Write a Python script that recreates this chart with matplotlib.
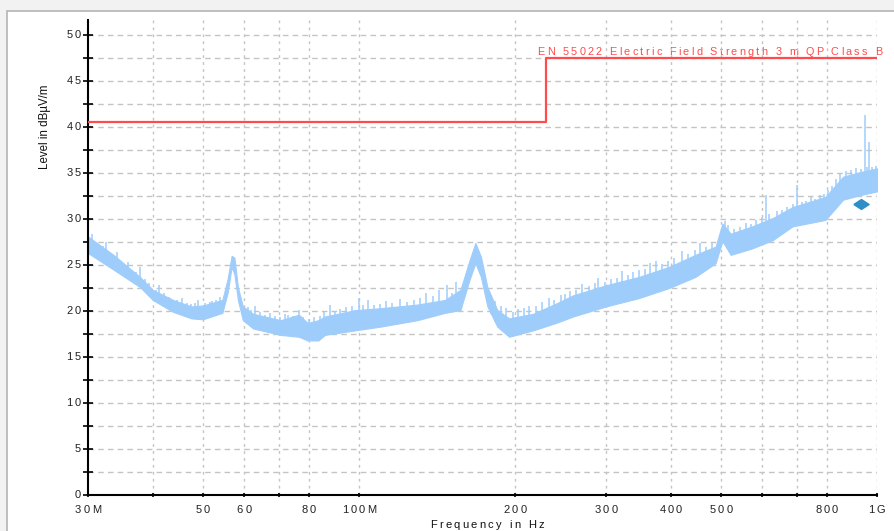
import numpy as np
import matplotlib
matplotlib.use("Agg")
import matplotlib.pyplot as plt
from matplotlib.patches import Rectangle
from matplotlib.ticker import FixedLocator, NullFormatter
from matplotlib.transforms import offset_copy

# ---------------- data ----------------
env_freq_mhz = [30, 33.6, 37.8, 40, 43.8, 47.5, 50, 54.5, 55.8, 56.8, 57.5, 58.4, 59.7,
                62.5, 70.6, 76.6, 79.6, 83.5, 86, 98.4, 110, 129.6, 146.6, 157, 163.5,
                167.8, 172, 177, 185, 195, 217, 240, 259, 300, 347, 397, 446, 488, 503,
                522, 574, 629, 687, 795, 860, 929, 1000]
env_upper_db = [28.1, 26.1, 23.7, 22.3, 21.2, 20.5, 20.6, 21.2, 23.5, 26.0, 25.8, 22.6, 20.5,
                19.7, 19.0, 19.6, 18.7, 19.0, 19.4, 20.1, 20.3, 20.7, 21.2, 22.3, 25.5,
                27.4, 25.9, 22.6, 20.1, 19.2, 19.7, 20.8, 21.7, 22.8, 23.7, 24.8, 26.1, 27.0, 29.5,
                28.4, 29.2, 30.1, 31.3, 32.4, 34.6, 35.1, 35.5]
env_lower_db = [26.3, 24.5, 22.6, 21.2, 19.9, 19.2, 19.1, 19.8, 22.0, 24.8, 24.0, 21.2, 19.0,
                18.1, 17.4, 17.2, 16.8, 16.8, 17.4, 17.9, 18.3, 19.0, 19.8, 20.1, 23.4,
                25.2, 23.7, 20.5, 18.3, 17.2, 17.9, 18.7, 19.4, 20.5, 21.4, 22.5, 23.7, 25.2, 27.6,
                26.1, 26.8, 27.7, 29.2, 29.9, 32.1, 32.6, 33.0]

# narrow peaks / noise hairs above the band (frequency in MHz, level in dB)
spike_freq_mhz = [30.5, 31.2, 32.0, 32.5, 33.0, 34.2, 35.0, 35.8, 36.5, 37.2, 37.8, 38.6, 39.3,
                  40.5, 41.2, 42, 43, 44.5, 45.5, 46.5, 47.5, 48.3, 49, 50.5, 51.5, 52, 53, 54,
                  61, 62, 63, 64.5, 66, 67.5, 69, 70.5, 72, 73, 74.5, 76.5, 78, 80, 82, 84,
                  85.5, 88, 90, 92, 94.5, 97, 100, 102, 104, 107, 110, 113, 116, 120, 124, 128,
                  131, 135, 139, 143, 148, 151, 154,
                  180, 183, 188, 192, 198, 203, 208, 213, 220, 226, 233, 238, 245, 250, 256,
                  263, 270, 278, 285, 290, 298, 306, 315, 322, 330, 338, 347, 356, 365, 375,
                  385, 395, 405, 420, 432, 445, 456, 468, 480,
                  508, 515, 530, 545, 558, 570, 585, 600, 610, 620, 640, 655, 670, 687, 702,
                  715, 730, 745, 760, 775, 790, 805, 820, 835, 850, 870, 890, 910, 930, 947,
                  955, 966, 980, 995]
spike_level_db = [28.4, 27.4, 27.1, 27.5, 26.4, 26.4, 25.2, 25.3, 24.4, 24.2, 24.8, 23.5, 23.0,
                  22.3, 22.8, 22.0, 21.5, 21.2, 21.4, 20.9, 20.8, 20.9, 21.2, 20.9, 21.0, 21.1, 21.2, 21.5,
                  20.4, 20.1, 20.5, 19.9, 19.6, 19.8, 19.5, 19.4, 19.7, 19.6, 19.5, 20.1, 19.3, 19.1, 19.4, 19.5,
                  19.9, 20.7, 20.0, 20.2, 20.4, 20.5, 21.4, 20.7, 21.2, 20.7, 20.8, 21.1, 20.9, 21.3, 21.0, 21.2,
                  21.4, 22.0, 21.6, 22.3, 22.8, 22.0, 23.2,
                  21.6, 21.1, 20.5, 20.3, 19.9, 20.2, 20.3, 20.5, 20.5, 21.0, 21.4, 21.2, 21.7, 21.8, 22.2,
                  22.3, 22.9, 22.7, 23.0, 23.6, 23.2, 23.5, 23.6, 24.3, 23.9, 24.2, 24.5, 24.6, 25.2, 25.4,
                  25.1, 25.4, 25.8, 26.5, 26.2, 26.6, 27.4, 27.0, 27.4,
                  29.8, 29.3, 28.9, 29.1, 29.6, 29.5, 29.9, 30.2, 32.6, 30.5, 30.9, 31.0, 31.3, 31.6, 33.7,
                  31.9, 32.0, 32.4, 32.2, 32.6, 32.7, 33.1, 33.6, 34.3, 34.9, 35.2, 35.3, 35.5, 35.4, 41.3,
                  35.6, 38.4, 35.7, 35.8]

limit_freq_mhz = [30, 230, 230, 1000]
limit_level_db = [40.5, 40.5, 47.5, 47.5]
limit_name = "EN 55022 Electric Field Strength 3 m QP Class B"

marker_freq_mhz = [932]
marker_level_db = [31.6]

x_ticks = [30, 40, 50, 60, 70, 80, 100, 200, 300, 400, 500, 600, 700, 800, 1000]
x_tick_labels = ["30M", "", "50", "60", "", "80", "100M", "200", "300", "400", "500", "", "", "800", "1G"]
y_ticks = [0, 5, 10, 15, 20, 25, 30, 35, 40, 45, 50]
y_tick_labels = [str(v) for v in y_ticks]

# ---------------- figure ----------------
plt.rcParams['font.family'] = ['Liberation Sans', 'DejaVu Sans']
W, H = 895, 531
fig = plt.figure(figsize=(W / 100, H / 100), dpi=100)
fig.patch.set_facecolor('#f2f2f2')
panel = Rectangle((7.5 / W, -0.05), 1.2, 1 - 10.5 / H + 0.05, transform=fig.transFigure,
                  facecolor='white', edgecolor='#b4b4b4', linewidth=1.2, zorder=-10)
fig.add_artist(panel)
renderer = fig.canvas.get_renderer()


def measure(s, **kw):
    t = fig.text(0, 0, s, **kw)
    w = t.get_window_extent(renderer).width
    t.remove()
    return w


def spaced_text(x, y, s, transform, spacing, ha='left', va='baseline', dx=0.0, dy=0.0, **kw):
    """Draw text with extra letter spacing (px), each character as real text."""
    bar = measure('|', **kw)
    pos = [0.0] + [measure(s[:i] + '|', **kw) - bar for i in range(1, len(s))]
    total = measure(s, **kw) + spacing * (len(s) - 1)
    start = {'left': 0.0, 'center': -total / 2, 'right': -total}[ha]
    for i, ch in enumerate(s):
        if ch == ' ':
            continue
        tr = offset_copy(transform, fig=fig, x=dx + start + pos[i] + i * spacing, y=dy, units='dots')
        fig.text(x, y, ch, transform=tr, ha='left', va=va, **kw)


ax = fig.add_axes([88 / W, 1 - 495 / H, (877 - 88) / W, (495 - 20) / H])
ax.set_zorder(5)
ax.set_facecolor('none')
ax.set_xscale('log')
ax.set_xlim(30, 1000)
ax.set_ylim(0, (495 - 20) / 9.2)

for s in ['top', 'right']:
    ax.spines[s].set_visible(False)
for s in ['left', 'bottom']:
    ax.spines[s].set_linewidth(1.5)
    ax.spines[s].set_color('black')

ax.xaxis.set_major_locator(FixedLocator(x_ticks))
ax.xaxis.set_minor_locator(FixedLocator([]))
ax.xaxis.set_minor_formatter(NullFormatter())
ax.yaxis.set_major_locator(FixedLocator(y_ticks))
ax.yaxis.set_minor_locator(FixedLocator([y + 2.5 for y in y_ticks[:-1]]))
ax.tick_params(axis='x', which='major', direction='inout', length=3.5, width=1.2, labelbottom=False)
ax.tick_params(axis='y', which='both', direction='inout', length=6.5, width=1.2, labelleft=False)

# grid
for y in np.arange(2.5, 52, 2.5):
    ax.axhline(y, color='#c4c4c4', lw=1.0, ls=(0, (4, 3)), zorder=1)
for x in x_ticks[1:]:
    ax.axvline(x, color='#c4c4c4', lw=1.0, ls=(0, (2, 3)), zorder=1)

band_color = '#9fcdfb'
ax.fill_between(env_freq_mhz, env_lower_db, env_upper_db, color=band_color, lw=0.8,
                edgecolor=band_color, zorder=2)
spike_base = np.interp(np.log10(spike_freq_mhz), np.log10(env_freq_mhz), env_lower_db)
ax.vlines(spike_freq_mhz, spike_base, spike_level_db, color=band_color, lw=1.1, zorder=2)

ax.plot(limit_freq_mhz, limit_level_db, color='#ff4b4b', lw=1.6, zorder=3)

diamond = [(-1, 0), (0, 0.65), (1, 0), (0, -0.65), (-1, 0)]
ax.plot(marker_freq_mhz, marker_level_db, ls='none', marker=diamond, markersize=11,
        color='#2e8fc6', zorder=4)

# texts
tick_kw = dict(fontsize=8, color='#222222')
for f, lab in zip(x_ticks, x_tick_labels):
    if lab:
        spaced_text(f, 0, lab, ax.get_xaxis_transform(), 2.2, ha='center', va='center',
                    dy=-15, **tick_kw)
for v, lab in zip(y_ticks, y_tick_labels):
    spaced_text(0, v, lab, ax.get_yaxis_transform(), 2.2, ha='right', va='center',
                dx=-7, **tick_kw)

spaced_text(230, limit_level_db[-1], limit_name, ax.transData, 2.3, ha='left', va='baseline',
            dx=-9, dy=3, fontsize=7.8, color='#ff4b4b')

spaced_text(487 / W, 1 - 528 / H, "Frequency in Hz", fig.transFigure, 2.3, ha='center',
            va='baseline', fontsize=8, color='#111111')

fig.text(45 / W, 1 - 127 / H, "Level in dBµV/m", rotation=90, ha='center', va='center',
         fontsize=8.3, family=['Liberation Sans Narrow', 'Liberation Sans', 'DejaVu Sans'],
         color='#111111')

fig.savefig('out.png', dpi=100)
